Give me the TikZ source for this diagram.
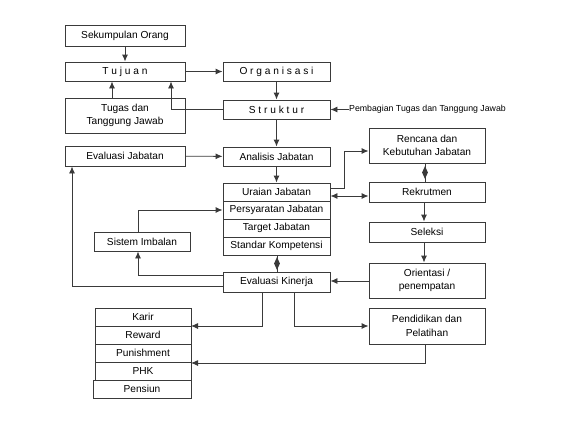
\documentclass[tikz,border=0pt]{standalone}
\usepackage{fontspec}
\setmainfont{Liberation Sans}
\usetikzlibrary{arrows.meta,shapes.geometric}
\definecolor{ln}{HTML}{3A3A3A}
\begin{document}
\begin{tikzpicture}[x=1bp,y=-1bp,
  box/.style={draw=ln,line width=0.9bp,inner sep=0pt,align=center,font=\fontsize{10.2}{13.5}\selectfont,text=black},
  arr/.style={draw=ln,line width=0.9bp,-{Latex[length=7bp,width=6bp]}},
  darr/.style={draw=ln,line width=0.9bp,{Latex[length=7bp,width=6bp]}-{Latex[length=7bp,width=6bp]}},
  ln/.style={draw=ln,line width=0.9bp},
  dia/.style={diamond,fill=ln,inner sep=0pt,minimum width=6bp,minimum height=13bp}]
\useasboundingbox (0,0) rectangle (581,421);
% left column
\node[box,minimum width=120bp,minimum height=21bp] (sek) at (125,35.5) {Sekumpulan Orang};
\node[box,minimum width=120bp,minimum height=19bp] (tuj) at (125,71.5) {T u j u a n};
\node[box,minimum width=120bp,minimum height=35bp] (tug) at (125,115.5) {Tugas dan\\Tanggung Jawab};
\node[box,minimum width=120bp,minimum height=20bp] (evj) at (125,156) {Evaluasi Jabatan};
\node[box,minimum width=96bp,minimum height=19bp] (sis) at (142,241.5) {Sistem Imbalan};
% middle column
\node[box,minimum width=107bp,minimum height=19bp] (org) at (276.5,71.5) {O r g a n i s a s i};
\node[box,minimum width=107bp,minimum height=19bp] (str) at (276.5,109.5) {S t r u k t u r};
\node[box,minimum width=107bp,minimum height=19bp] (ana) at (276.5,156.5) {Analisis Jabatan};
\node[box,minimum width=107bp,minimum height=18bp] (ura) at (276.5,192) {Uraian Jabatan};
\node[box,minimum width=107bp,minimum height=18bp] (per) at (276.5,210) {Persyaratan Jabatan};
\node[box,minimum width=107bp,minimum height=18bp] (tar) at (276.5,228) {Target Jabatan};
\node[box,minimum width=107bp,minimum height=18bp] (sta) at (276.5,246) {Standar Kompetensi};
\node[box,minimum width=107bp,minimum height=20bp] (evk) at (276.5,282) {Evaluasi Kinerja};
% right column
\node[box,minimum width=116bp,minimum height=35bp] (ren) at (427,145.5) {Rencana dan\\Kebutuhan Jabatan};
\node[box,minimum width=116bp,minimum height=20bp] (rek) at (427,192) {Rekrutmen};
\node[box,minimum width=116bp,minimum height=20bp] (sel) at (427,232) {Seleksi};
\node[box,minimum width=116bp,minimum height=35bp] (ori) at (427,280.5) {Orientasi /\\penempatan};
\node[box,minimum width=116bp,minimum height=36bp] (pen) at (427,326) {Pendidikan dan\\Pelatihan};
% bottom-left stack
\node[box,minimum width=96bp,minimum height=18bp] (kar) at (143,317) {Karir};
\node[box,minimum width=96bp,minimum height=18bp] (rew) at (143,335) {Reward};
\node[box,minimum width=96bp,minimum height=18bp] (pun) at (143,353) {Punishment};
\node[box,minimum width=96bp,minimum height=18bp] (phk) at (143,371) {PHK};
\node[box,minimum width=98bp,minimum height=18bp] (pns) at (142,389) {Pensiun};
% side label
\node[anchor=west,inner sep=0pt,font=\fontsize{8.8}{10}\selectfont] (pem) at (349,109.5) {Pembagian Tugas dan Tanggung Jawab};
% coordinates
\coordinate (c1) at (171,109.5);
\coordinate (c2) at (344,188);
\coordinate (c3) at (344,151);
\coordinate (c4) at (138,210);
\coordinate (c5) at (138,275);
\coordinate (c6) at (72,286);
\coordinate (c7) at (262,326);
\coordinate (c8) at (294,326);
\coordinate (c9) at (425,363);
\coordinate (kr) at (191,326);
\coordinate (pr) at (191,363);
% connectors
\draw[arr] (sek) -- (tuj);
\draw[arr] (tug.north -| 112,0) -- (tuj.south -| 112,0);
\draw[arr] (tuj) -- (org);
\draw[arr] (org) -- (str);
\draw[arr] (str.west) -- (c1) -- (tuj.south -| c1);
\draw[arr] (pem.west) -- (str.east);
\draw[arr] (str) -- (ana);
\draw[arr] (evj) -- (ana);
\draw[arr] (ana) -- (ura);
\draw[arr] (ura.east |- c2) -- (c2) -- (c3) -- (ren.west |- c3);
\draw[darr] (ura.east |- 0,196) -- (rek.west |- 0,196);
\draw[ln] (ren.south -| 425,0) -- (rek.north -| 425,0);
\node[dia] (d1) at (425,172.5) {};
\draw[arr] (rek.south -| 424,0) -- (sel.north -| 424,0);
\draw[arr] (sel.south -| 424,0) -- (ori.north -| 424,0);
\draw[arr] (ori.west |- 0,281) -- (evk.east |- 0,281);
\draw[ln] (sta.south -| 277,0) -- (evk.north -| 277,0);
\node[dia] (d2) at (277,263.5) {};
\draw[arr] (sis.north -| c4) -- (c4) -- (per.west);
\draw[arr] (evk.west |- c5) -- (c5) -- (sis.south -| c5);
\draw[arr] (evk.west |- c6) -- (c6) -- (evj.south -| c6);
\draw[arr] (evk.south -| c7) -- (c7) -- (kr);
\draw[arr] (evk.south -| c8) -- (c8) -- (pen.west);
\draw[arr] (pen.south -| c9) -- (c9) -- (pr);
\end{tikzpicture}
\end{document}
